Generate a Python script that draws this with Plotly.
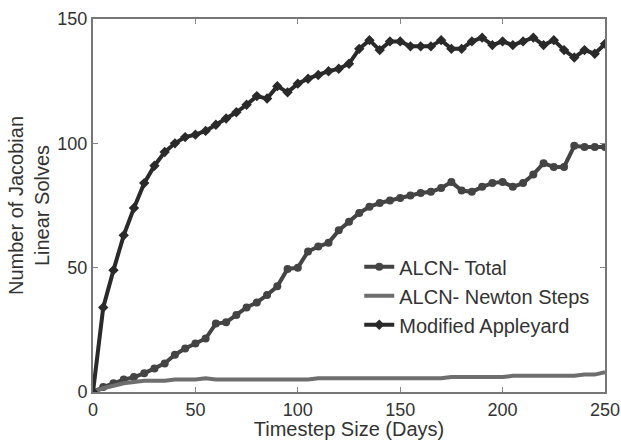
import plotly.graph_objects as go

x_days = list(range(0, 255, 5))

appleyard = [0, 34, 49, 63, 74, 84, 91, 96.5, 100, 102.5, 103.5, 105, 107.5, 110, 112.5, 115.5,
             119, 118, 123, 120.5, 124, 126, 127.5, 129, 130, 132, 138, 141.5, 137.5, 141, 141,
             139, 139, 139, 141.5, 138, 138, 141, 142.5, 139.5, 141, 139.5, 141, 142.5, 139.5,
             141.5, 137.5, 134.5, 137.5, 136, 140]

alcn_total = [0, 2, 3.5, 5, 6, 7.5, 9.5, 11.5, 15, 17.5, 19.5, 21.5, 27.5, 28, 31, 34, 36, 39,
              42.5, 49.5, 50, 56.5, 58.5, 60, 65, 68.5, 72, 74.5, 76, 77, 78, 79, 80, 80.5, 82,
              84.5, 81, 80.5, 82.5, 84, 84.5, 82.5, 84, 87.5, 92, 90.5, 90.5, 99, 98.5, 98.5, 98.5]

alcn_newton = [0, 1.5, 2.5, 3.5, 4, 4.5, 4.5, 4.5, 5, 5, 5, 5.5, 5, 5, 5, 5, 5, 5, 5, 5, 5, 5,
               5.5, 5.5, 5.5, 5.5, 5.5, 5.5, 5.5, 5.5, 5.5, 5.5, 5.5, 5.5, 5.5, 6, 6, 6, 6, 6, 6,
               6.5, 6.5, 6.5, 6.5, 6.5, 6.5, 6.5, 7, 7, 8]

x_ticks = [0, 50, 100, 150, 200, 250]
y_ticks = [0, 50, 100, 150]

fig = go.Figure()
fig.add_trace(go.Scatter(x=x_days, y=alcn_total, mode="lines+markers", name="ALCN- Total",
                         line=dict(color="#444444", width=4),
                         marker=dict(symbol="circle", size=8, color="#444444")))
fig.add_trace(go.Scatter(x=x_days, y=alcn_newton, mode="lines", name="ALCN- Newton Steps",
                         line=dict(color="#6e6e6e", width=4)))
fig.add_trace(go.Scatter(x=x_days, y=appleyard, mode="lines+markers", name="Modified Appleyard",
                         line=dict(color="#2a2a2a", width=4),
                         marker=dict(symbol="diamond", size=8, color="#2a2a2a")))

fig.update_layout(
    width=621, height=440,
    margin=dict(l=93, r=16, t=19, b=48),
    paper_bgcolor="white", plot_bgcolor="white",
    font=dict(family="Liberation Sans", size=17, color="#333333"),
    showlegend=True,
    legend=dict(x=0.52, y=0.388, xanchor="left", yanchor="top",
                bgcolor="rgba(0,0,0,0)", font=dict(size=20),
                tracegroupgap=0, itemwidth=30),
)
fig.update_xaxes(range=[0, 250], tickvals=x_ticks, ticks="inside", ticklen=5,
                 tickcolor="#888888", showline=True, linecolor="#777777", linewidth=2,
                 mirror="ticks", showgrid=False, zeroline=False, automargin=False,
                 title=dict(text="Timestep Size (Days)", standoff=0),
                 tickfont=dict(size=18))
fig.update_yaxes(range=[0, 150], tickvals=y_ticks, ticks="inside", ticklen=5,
                 tickcolor="#888888", showline=True, linecolor="#777777", linewidth=2,
                 mirror="ticks", showgrid=False, zeroline=False, automargin=False,
                 title=dict(text="Number of Jacobian<br>Linear Solves", standoff=2),
                 tickfont=dict(size=18))

fig.write_html("out.html")
